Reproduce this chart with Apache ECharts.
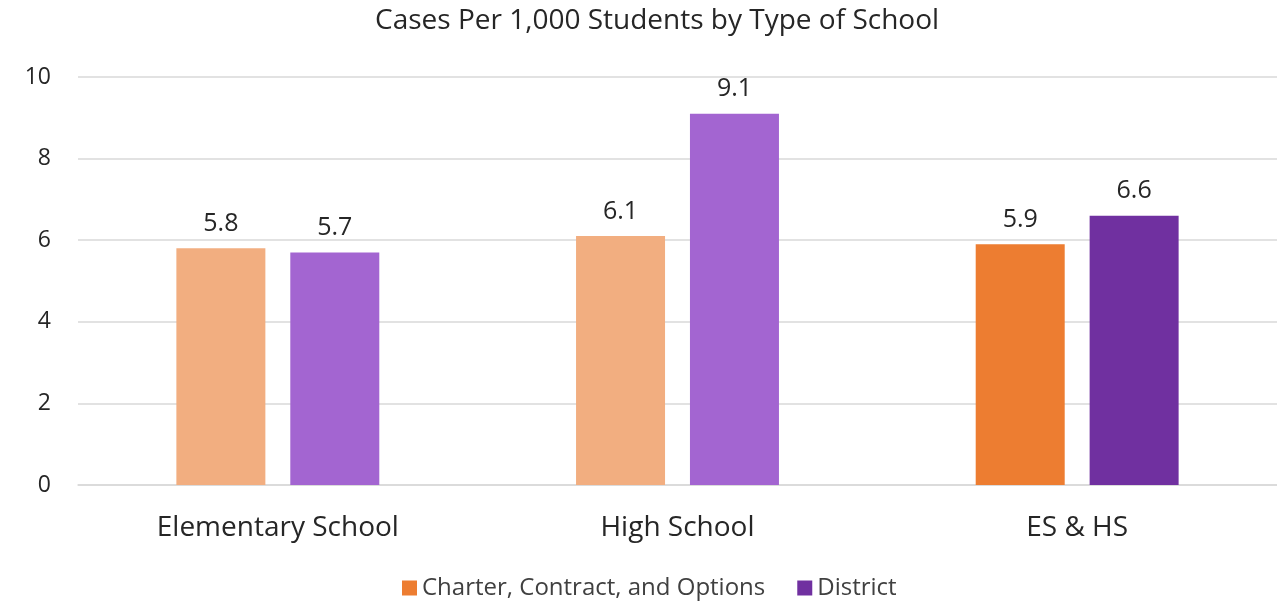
<!DOCTYPE html>
<html>
<head>
<meta charset="utf-8">
<script src="https://cdn.jsdelivr.net/npm/echarts@6/dist/echarts.min.js"></script>
<style>html,body{margin:0;padding:0;background:#fff}#c{width:1277px;height:605px}</style>
</head>
<body>
<div id="c"></div>
<script>
const categories = ['Elementary School', 'High School', 'ES & HS'];
const charterValues = [5.8, 6.1, 5.9];
const districtValues = [5.7, 9.1, 6.6];
const yTicks = [0, 2, 4, 6, 8, 10];
const seriesNames = ['Charter, Contract, and Options', 'District'];

const orange = '#ED7D31', orangeLight = '#F2AE80';
const purple = '#7030A0', purpleLight = '#A365D1';
const FONT = '"Open Sans", Lato, sans-serif';

function mk(vals, light, dark) {
  return vals.map((v, i) => ({ value: v, itemStyle: { color: i < 2 ? light : dark } }));
}

const chart = echarts.init(document.getElementById('c'), null, { renderer: 'canvas' });
chart.setOption({
  animation: false,
  textStyle: { fontFamily: FONT },
  title: {
    text: 'Cases Per 1,000 Students by Type of School',
    left: 370, top: 2,
    textStyle: { fontFamily: FONT, fontSize: 28, fontWeight: 'normal', color: '#262626' }
  },
  legend: {
    bottom: 0, left: 397,
    itemWidth: 15, itemHeight: 15, itemGap: 32,
    icon: 'rect',
    textStyle: { fontFamily: FONT, fontSize: 24, color: '#404040' },
    data: [
      { name: seriesNames[0], itemStyle: { color: orange } },
      { name: seriesNames[1], itemStyle: { color: purple } }
    ]
  },
  grid: { left: 78, right: -7, top: 77, bottom: 120, containLabel: false },
  xAxis: {
    type: 'category', data: categories,
    axisLine: { lineStyle: { color: '#D9D9D9', width: 1.5 } },
    axisTick: { show: false },
    axisLabel: { fontFamily: FONT, fontSize: 28, color: '#262626', margin: 29 }
  },
  yAxis: {
    type: 'value', min: yTicks[0], max: yTicks[yTicks.length - 1], interval: 2,
    axisLine: { show: false }, axisTick: { show: false },
    splitLine: { lineStyle: { color: '#D9D9D9', width: 1.5 } },
    axisLabel: { fontFamily: FONT, fontSize: 23, color: '#262626', margin: 27 }
  },
  series: [
    {
      name: seriesNames[0], type: 'bar', data: mk(charterValues, orangeLight, orange),
      barWidth: 89, barGap: '28%', itemStyle: { color: orange },
      label: { show: true, position: 'top', distance: 12, fontFamily: FONT, fontSize: 25, color: '#262626', formatter: p => p.value.toFixed(1) }
    },
    {
      name: seriesNames[1], type: 'bar', data: mk(districtValues, purpleLight, purple),
      barWidth: 89, barGap: '28%', itemStyle: { color: purple },
      label: { show: true, position: 'top', distance: 12, fontFamily: FONT, fontSize: 25, color: '#262626', formatter: p => p.value.toFixed(1) }
    }
  ]
});
</script>
</body>
</html>
